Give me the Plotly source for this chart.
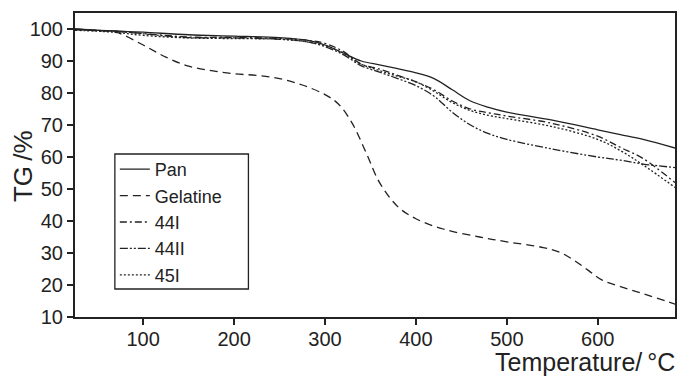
import plotly.graph_objects as go

temps = [25, 50, 75, 100, 150, 200, 250, 280, 300, 320, 340, 360, 380, 400,
         420, 440, 460, 480, 500, 550, 600, 625, 650, 685]
pan = [100, 99.6, 99.3, 99.0, 98.2, 97.8, 97.3, 96.5, 95.0, 92.5, 90.0, 88.8, 87.6, 86.3,
       84.5, 81.0, 77.5, 75.5, 74.0, 71.5, 68.5, 67.0, 65.5, 62.8]
s44i = [99.8, 99.5, 99.2, 98.6, 97.5, 97.4, 97.0, 96.5, 95.5, 93.0, 89.0, 87.5, 85.5, 83.5,
        81.0, 77.5, 75.0, 73.8, 72.8, 70.5, 66.5, 63.0, 59.5, 52.0]
s44ii = [100, 99.6, 99.2, 98.5, 97.3, 97.2, 96.8, 96.0, 94.5, 92.0, 88.5, 86.5, 84.5, 82.3,
         79.0, 74.0, 70.0, 67.3, 65.5, 62.5, 60.0, 59.0, 57.8, 56.7]
s45i = [99.6, 99.3, 98.8, 98.0, 97.2, 97.0, 96.8, 96.0, 94.8, 92.5, 89.0, 87.0, 85.2, 83.5,
        80.5, 77.0, 74.5, 73.0, 72.0, 69.5, 65.5, 62.0, 57.5, 50.5]

gel_temps = [25, 50, 70, 100, 125, 150, 175, 200, 225, 250, 275, 300, 315, 330, 345, 360,
             380, 400, 430, 470, 500, 540, 560, 575, 590, 605, 625, 650, 685]
gelatine = [99.8, 99.5, 99.0, 95.0, 91.2, 88.4, 87.0, 86.0, 85.5, 84.5, 82.5, 79.5, 76.5,
            70.5, 61.5, 52.0, 44.5, 40.7, 37.5, 35.0, 33.5, 31.7, 30.0, 27.5, 24.5, 21.5,
            19.5, 17.3, 14.0]

x_ticks = [100, 200, 300, 400, 500, 600]
y_ticks = [10, 20, 30, 40, 50, 60, 70, 80, 90, 100]

ink = "#222222"
font = "Liberation Sans, Arial, sans-serif"

fig = go.Figure()
series = [
    ("Pan", temps, pan, "solid"),
    ("Gelatine", gel_temps, gelatine, "8px,5px"),
    ("44I", temps, s44i, "7px,3px,2px,3px"),
    ("44II", temps, s44ii, "8px,2px,2px,2px,2px,2px"),
    ("45I", temps, s45i, "2px,2px"),
]
for name, xs, ys, dash in series:
    fig.add_trace(go.Scatter(x=xs, y=ys, name=name, mode="lines",
                             line=dict(color=ink, width=1.3, dash=dash, shape="spline")))

fig.update_layout(
    width=682, height=378,
    margin=dict(l=75, r=5, t=13, b=61),
    paper_bgcolor="white", plot_bgcolor="white",
    font=dict(family=font, color=ink),
    showlegend=True,
    legend=dict(x=0.0664, y=0.546, xanchor="left", yanchor="top",
                borderwidth=0, bgcolor="rgba(0,0,0,0)",
                font=dict(size=18, color=ink, family=font),
                itemwidth=30, tracegroupgap=0),
    xaxis=dict(range=[25, 685], tickvals=x_ticks, ticks="outside", ticklen=6,
               tickwidth=1.5, tickcolor=ink, showline=True, linewidth=2, linecolor=ink,
               mirror=True, showgrid=False, zeroline=False, ticklabelstandoff=-3,
               tickfont=dict(size=20, color=ink, family=font)),
    yaxis=dict(range=[10, 105], tickvals=y_ticks, ticks="outside", ticklen=6,
               tickwidth=1.5, tickcolor=ink, showline=True, linewidth=2, linecolor=ink,
               mirror=True, showgrid=False, zeroline=False,
               tickfont=dict(size=20, color=ink, family=font)),
    shapes=[
        dict(type="rect", xref="paper", yref="paper",
             x0=(115 - 75) / 602, x1=(249 - 75) / 602,
             y0=(317 - 289) / 304, y1=(317 - 154) / 304,
             line=dict(color=ink, width=1.3), fillcolor="rgba(0,0,0,0)", layer="above"),
    ],
    annotations=[
        dict(text="Temperature/\u2009°C", xref="paper", yref="paper", x=1.003, y=-0.148,
             xanchor="right", yanchor="middle", showarrow=False,
             font=dict(size=25, color=ink, family=font)),
        dict(text="TG\u2009/%", xref="paper", yref="paper", x=-0.0864, y=0.497,
             xanchor="center", yanchor="middle", textangle=-90, showarrow=False,
             font=dict(size=26, color=ink, family=font)),
    ],
)

fig.write_html("out.html", config={"displayModeBar": False},
               post_script="document.body.style.margin='0';")
